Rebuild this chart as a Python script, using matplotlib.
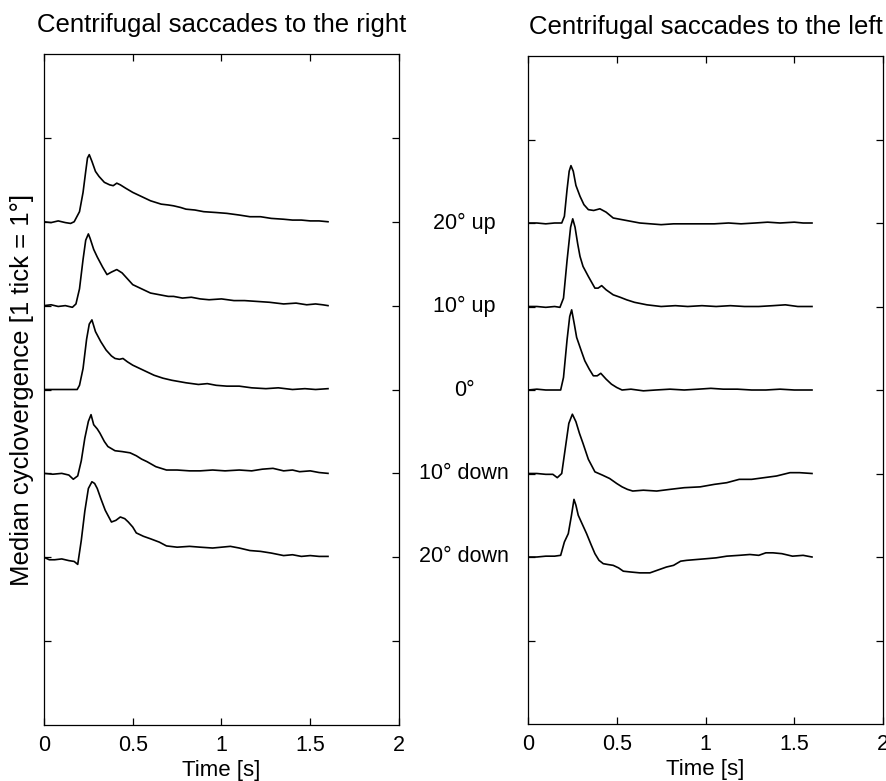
import matplotlib
matplotlib.use("Agg")
import matplotlib.pyplot as plt
import matplotlib.transforms as mtransforms

plt.rcParams['font.family'] = ['Liberation Sans', 'DejaVu Sans']

# ---------------- data ----------------
conditions = ["20° up", "10° up", "0°", "10° down", "20° down"]
baselines = [6, 5, 4, 3, 2]   # vertical offset of each trace (1 tick = 1°)

x_ticks = [0, 0.5, 1, 1.5, 2]
x_tick_labels = ["0", "0.5", "1", "1.5", "2"]
y_ticks = [1, 2, 3, 4, 5, 6, 7]

# Left panel: centrifugal saccades to the right
L_up20_t = [0, 0.04, 0.08, 0.12, 0.15, 0.17, 0.20, 0.22, 0.235, 0.245, 0.255, 0.27, 0.29, 0.31, 0.34, 0.37, 0.39, 0.41, 0.43,
            0.46, 0.50, 0.55, 0.60, 0.66, 0.70, 0.73, 0.77, 0.80, 0.85, 0.90, 0.97, 1.03, 1.10, 1.16, 1.22, 1.28, 1.35,
            1.40, 1.45, 1.50, 1.55, 1.60]
L_up20_v = [0.00, -0.01, 0.01, -0.01, -0.02, 0.00, 0.12, 0.35, 0.60, 0.76, 0.80, 0.72, 0.60, 0.54, 0.47, 0.44, 0.43, 0.46,
            0.44, 0.40, 0.35, 0.30, 0.25, 0.21, 0.20, 0.19, 0.17, 0.15, 0.14, 0.12, 0.11, 0.10, 0.08, 0.06, 0.06, 0.04,
            0.03, 0.02, 0.02, 0.01, 0.01, 0.00]

L_up10_t = [0, 0.04, 0.08, 0.12, 0.16, 0.18, 0.20, 0.22, 0.235, 0.25, 0.26, 0.28, 0.30, 0.33, 0.355, 0.38, 0.41, 0.44, 0.47,
            0.50, 0.53, 0.56, 0.60, 0.65, 0.70, 0.73, 0.78, 0.83, 0.88, 0.93, 1.00, 1.07, 1.13, 1.20, 1.27, 1.35, 1.42,
            1.48, 1.53, 1.57, 1.60]
L_up10_v = [0, 0.01, -0.01, 0.0, -0.02, 0.02, 0.20, 0.55, 0.78, 0.855, 0.80, 0.67, 0.58, 0.46, 0.37, 0.40, 0.43, 0.39, 0.32,
            0.25, 0.22, 0.19, 0.15, 0.13, 0.11, 0.11, 0.09, 0.10, 0.08, 0.07, 0.08, 0.06, 0.06, 0.05, 0.04, 0.02, 0.03,
            0.01, 0.02, 0.01, 0.00]

L_0_t = [0, 0.05, 0.10, 0.15, 0.187, 0.20, 0.22, 0.24, 0.255, 0.27, 0.29, 0.32, 0.35, 0.38, 0.40, 0.425, 0.445, 0.47, 0.50,
         0.54, 0.58, 0.62, 0.67, 0.72, 0.80, 0.87, 0.92, 0.97, 1.03, 1.10, 1.17, 1.25, 1.32, 1.40, 1.47, 1.53, 1.60]
L_0_v = [0, 0, 0, 0, 0, 0.05, 0.25, 0.60, 0.78, 0.83, 0.69, 0.57, 0.47, 0.40, 0.37, 0.36, 0.37, 0.33, 0.29,
         0.25, 0.21, 0.17, 0.135, 0.11, 0.08, 0.06, 0.07, 0.05, 0.04, 0.04, 0.02, 0.01, 0.02, 0.00, 0.01, 0.00, 0.01]

L_dn10_t = [0, 0.05, 0.10, 0.14, 0.165, 0.19, 0.21, 0.23, 0.25, 0.265, 0.28, 0.30, 0.315, 0.34, 0.36, 0.40, 0.44, 0.485,
            0.52, 0.55, 0.58, 0.63, 0.69, 0.75, 0.82, 0.88, 0.95, 1.02, 1.10, 1.17, 1.23, 1.29, 1.35, 1.40, 1.44, 1.50,
            1.55, 1.60]
L_dn10_v = [0, -0.01, 0.0, -0.02, -0.07, -0.03, 0.15, 0.42, 0.62, 0.70, 0.58, 0.53, 0.48, 0.38, 0.32, 0.27, 0.26, 0.245,
            0.21, 0.17, 0.14, 0.08, 0.04, 0.04, 0.03, 0.03, 0.04, 0.03, 0.04, 0.03, 0.05, 0.06, 0.03, 0.04, 0.02, 0.03,
            0.01, 0.00]

L_dn20_t = [0, 0.03, 0.06, 0.10, 0.14, 0.17, 0.19, 0.21, 0.23, 0.25, 0.27, 0.285, 0.30, 0.32, 0.345, 0.38, 0.405, 0.43,
            0.455, 0.475, 0.50, 0.52, 0.56, 0.60, 0.65, 0.69, 0.75, 0.82, 0.88, 0.95, 1.00, 1.05, 1.10, 1.16, 1.22, 1.28,
            1.35, 1.40, 1.45, 1.50, 1.55, 1.60]
L_dn20_v = [0, -0.03, -0.03, -0.02, -0.04, -0.05, -0.085, 0.20, 0.55, 0.82, 0.90, 0.88, 0.82, 0.70, 0.56, 0.42, 0.44, 0.48,
            0.46, 0.42, 0.36, 0.29, 0.25, 0.22, 0.18, 0.135, 0.12, 0.13, 0.12, 0.11, 0.12, 0.13, 0.11, 0.08, 0.07, 0.05,
            0.02, 0.03, 0.01, 0.02, 0.01, 0.01]

# Right panel: centrifugal saccades to the left
R_up20_t = [0, 0.05, 0.10, 0.15, 0.19, 0.205, 0.22, 0.232, 0.242, 0.255, 0.27, 0.293, 0.315, 0.34, 0.37, 0.405, 0.44, 0.48,
            0.53, 0.58, 0.63, 0.69, 0.75, 0.82, 0.90, 0.97, 1.05, 1.13, 1.20, 1.28, 1.35, 1.42, 1.50, 1.55, 1.60]
R_up20_v = [0, 0.0, -0.01, 0.0, 0.0, 0.08, 0.40, 0.62, 0.687, 0.62, 0.45, 0.32, 0.22, 0.16, 0.15, 0.17, 0.13, 0.06,
            0.04, 0.02, 0.0, -0.01, -0.02, -0.01, -0.01, -0.01, -0.01, 0.0, -0.01, 0.0, 0.01, 0.0, 0.01, 0.0, 0.0]

R_up10_t = [0, 0.05, 0.10, 0.15, 0.18, 0.20, 0.22, 0.24, 0.252, 0.265, 0.28, 0.293, 0.31, 0.34, 0.377, 0.395, 0.415, 0.44,
            0.48, 0.52, 0.556, 0.60, 0.67, 0.75, 0.83, 0.90, 0.98, 1.06, 1.14, 1.22, 1.30, 1.38, 1.45, 1.52, 1.60]
R_up10_v = [0, 0.0, -0.01, 0.0, -0.01, 0.10, 0.55, 0.95, 1.05, 0.95, 0.75, 0.60, 0.48, 0.36, 0.22, 0.22, 0.25, 0.20,
            0.14, 0.11, 0.08, 0.05, 0.02, 0.0, 0.01, 0.0, 0.01, 0.0, 0.01, 0.0, 0.0, 0.01, 0.02, 0.0, 0.0]

R_0_t = [0, 0.05, 0.10, 0.15, 0.184, 0.20, 0.22, 0.235, 0.246, 0.26, 0.274, 0.30, 0.32, 0.345, 0.368, 0.39, 0.41, 0.44,
         0.47, 0.50, 0.53, 0.58, 0.65, 0.72, 0.80, 0.88, 0.96, 1.03, 1.10, 1.18, 1.26, 1.34, 1.42, 1.50, 1.60]
R_0_v = [0, 0.01, 0.0, 0.0, 0.0, 0.15, 0.60, 0.88, 0.96, 0.80, 0.63, 0.47, 0.35, 0.25, 0.17, 0.17, 0.20, 0.13,
         0.07, 0.03, 0.0, 0.01, -0.01, 0.0, 0.01, 0.0, 0.01, 0.02, 0.01, 0.01, 0.0, 0.0, 0.01, 0.0, 0.0]

R_dn10_t = [0, 0.05, 0.10, 0.14, 0.165, 0.19, 0.21, 0.23, 0.25, 0.27, 0.29, 0.31, 0.34, 0.377, 0.42, 0.46, 0.50, 0.53,
            0.56, 0.59, 0.65, 0.725, 0.80, 0.88, 0.97, 1.05, 1.12, 1.19, 1.26, 1.33, 1.40, 1.476, 1.53, 1.60]
R_dn10_v = [0, 0.0, -0.01, -0.01, -0.05, 0.0, 0.30, 0.60, 0.71, 0.62, 0.48, 0.36, 0.17, 0.02, -0.02, -0.06, -0.12, -0.16,
            -0.19, -0.21, -0.20, -0.21, -0.19, -0.17, -0.16, -0.13, -0.11, -0.07, -0.07, -0.05, -0.03, 0.01, 0.01, 0.0]

R_dn20_t = [0, 0.05, 0.10, 0.15, 0.184, 0.205, 0.227, 0.245, 0.259, 0.27, 0.283, 0.30, 0.33, 0.355, 0.377, 0.40, 0.424,
            0.45, 0.48, 0.51, 0.537, 0.58, 0.63, 0.687, 0.74, 0.78, 0.82, 0.86, 0.894, 0.95, 1.007, 1.06, 1.12, 1.19,
            1.25, 1.30, 1.34, 1.38, 1.43, 1.49, 1.55, 1.60]
R_dn20_v = [0, 0.0, 0.01, 0.01, 0.02, 0.18, 0.28, 0.50, 0.69, 0.62, 0.50, 0.42, 0.28, 0.15, 0.04, -0.04, -0.08,
            -0.09, -0.10, -0.13, -0.17, -0.18, -0.19, -0.19, -0.15, -0.12, -0.10, -0.05, -0.04, -0.03, -0.02, -0.01,
            0.01, 0.02, 0.03, 0.02, 0.05, 0.05, 0.04, 0.01, 0.02, 0.0]

left_traces = [(L_up20_t, L_up20_v), (L_up10_t, L_up10_v), (L_0_t, L_0_v), (L_dn10_t, L_dn10_v), (L_dn20_t, L_dn20_v)]
right_traces = [(R_up20_t, R_up20_v), (R_up10_t, R_up10_v), (R_0_t, R_0_v), (R_dn10_t, R_dn10_v), (R_dn20_t, R_dn20_v)]

# ---------------- figure ----------------
W, H = 887, 781
fig = plt.figure(figsize=(W / 100, H / 100), dpi=100)


def px_axes(l, t, r, b):
    return fig.add_axes([l / W, 1 - b / H, (r - l) / W, (b - t) / H])


axL = px_axes(44, 54, 399, 725)
axR = px_axes(528, 56, 883, 724)


def style(ax, title):
    ax.set_xlim(0, 2)
    ax.set_ylim(0, 8)
    ax.set_xticks(x_ticks)
    ax.set_xticklabels(x_tick_labels)
    ax.set_yticks(y_ticks)
    ax.set_yticklabels([])
    ax.tick_params(direction='in', length=5, width=0.9, top=True, right=True,
                   labelsize=15.5, pad=7, colors='black')
    for s in ax.spines.values():
        s.set_linewidth(0.9)
    ax.set_xlabel("Time [s]", fontsize=16, labelpad=3)
    ax.set_title(title, fontsize=18.5, pad=16)


style(axL, "Centrifugal saccades to the right")
style(axR, "Centrifugal saccades to the left")

for (t, v), b in zip(left_traces, baselines):
    axL.plot(t, [b + y for y in v], color='black', lw=1.2)
for (t, v), b in zip(right_traces, baselines):
    axR.plot(t, [b + y for y in v], color='black', lw=1.2)

axL.set_ylabel("Median cyclovergence [1 tick = 1°]", fontsize=18.5, labelpad=0)

trans = mtransforms.blended_transform_factory(axR.transAxes, axR.transData)
for lab, b in zip(conditions, baselines):
    axR.text(-0.18, b, lab, transform=trans, ha='center', va='center', fontsize=15.5, clip_on=False)

fig.savefig("out.png", dpi=100)
